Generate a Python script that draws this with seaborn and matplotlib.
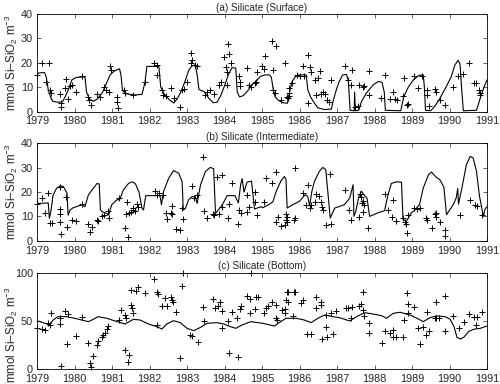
import matplotlib
matplotlib.use("Agg")
import matplotlib.pyplot as plt
import seaborn as sns
import pandas as pd

# ---------------- data ----------------
years = list(range(1979, 1992))
year_labels = [str(y) for y in years]

titles = ["(a) Silicate (Surface)", "(b) Silicate (Intermediate)", "(c) Silicate (Bottom)"]
ylabel = "mmol Si\u2013SiO$_2$ m$^{-3}$"

# panel (a) model line
a_line_t = [1979.00, 1979.05, 1979.20, 1979.25, 1979.30, 1979.36, 1979.42, 1979.55, 1979.68, 1979.75,
            1979.85, 1979.93, 1980.05, 1980.28, 1980.32, 1980.40, 1980.50, 1980.62, 1980.75, 1980.85,
            1980.95, 1981.05, 1981.20, 1981.24, 1981.28, 1981.40, 1981.60, 1981.80, 1981.84, 1981.88,
            1981.93, 1982.25, 1982.30, 1982.40, 1982.55, 1982.65, 1982.75, 1982.85, 1982.95, 1983.05,
            1983.12, 1983.22, 1983.27, 1983.32, 1983.45, 1983.58, 1983.70, 1983.80, 1983.90, 1984.00,
            1984.10, 1984.20, 1984.30, 1984.34, 1984.40, 1984.50, 1984.62, 1984.72, 1984.86, 1984.95,
            1985.07, 1985.20, 1985.25, 1985.30, 1985.35, 1985.43, 1985.55, 1985.68, 1985.71, 1985.75,
            1985.80, 1985.89, 1985.98, 1986.18, 1986.22, 1986.30, 1986.40, 1986.49, 1986.67, 1986.85,
            1986.90, 1986.98, 1987.05, 1987.15, 1987.25, 1987.30, 1987.35, 1987.46, 1987.47, 1987.49,
            1987.58, 1987.65, 1987.78, 1987.97, 1988.10, 1988.20, 1988.26, 1988.29, 1988.70, 1988.78,
            1988.90, 1989.04, 1989.18, 1989.30, 1989.33, 1989.36, 1989.50, 1989.60, 1989.73, 1989.87,
            1989.96, 1990.05, 1990.14, 1990.23, 1990.28, 1990.33, 1990.37, 1990.72, 1990.83, 1990.92,
            1991.00]
a_line_v = [15.0, 15.8, 16.0, 14.0, 9.0, 6.0, 4.2, 3.8, 4.0, 6.0,
            9.5, 13.0, 14.0, 14.2, 8.0, 5.0, 4.2, 5.2, 8.0, 11.5,
            15.0, 16.5, 17.5, 15.0, 8.5, 7.2, 6.8, 7.0, 9.5, 12.0,
            18.5, 18.5, 10.0, 7.0, 4.5, 3.5, 5.5, 8.5, 12.5, 17.0,
            18.5, 19.2, 15.0, 9.0, 8.2, 5.5, 3.6, 3.8, 6.5, 10.5,
            15.0, 18.0, 17.8, 8.0, 6.0, 6.5, 8.5, 10.8, 12.7, 14.3,
            15.0, 15.0, 14.0, 9.0, 6.0, 4.7, 3.6, 3.4, 6.0, 9.0,
            12.2, 14.3, 15.0, 15.0, 9.0, 5.8, 3.4, 1.5, 0.8, 1.0,
            4.5, 8.8, 12.0, 15.0, 15.2, 13.0, 0.5, 0.3, 8.0, 0.3,
            0.5, 4.0, 7.5, 11.0, 12.3, 12.0, 8.0, 0.5, 0.3, 6.0,
            10.0, 13.0, 14.8, 15.0, 10.0, 0.5, 0.3, 2.0, 5.0, 9.0,
            11.6, 14.4, 19.0, 21.0, 19.5, 8.0, 0.3, 0.5, 6.0, 10.0,
            13.0]

# panel (a) observations
a_obs_t = [1979.00, 1979.13, 1979.23, 1979.32, 1979.34, 1979.37, 1979.60, 1979.63, 1979.63, 1979.74,
           1979.77, 1979.83, 1979.88, 1979.92, 1980.04, 1980.21, 1980.37, 1980.39, 1980.44, 1980.60,
           1980.68, 1980.79, 1980.84, 1980.91, 1980.95, 1980.97, 1981.12, 1981.12, 1981.17, 1981.33,
           1981.35, 1981.57, 1981.88, 1982.13, 1982.20, 1982.20, 1982.32, 1982.37, 1982.45, 1982.57,
           1982.64, 1982.80, 1982.87, 1982.91, 1983.00, 1983.11, 1983.13, 1983.11, 1983.22, 1983.26,
           1983.47, 1983.52, 1983.62, 1983.72, 1983.85, 1983.90, 1983.98, 1984.04, 1984.08, 1984.07,
           1984.06, 1984.13, 1984.18, 1984.38, 1984.40, 1984.42, 1984.60, 1984.66, 1984.70, 1984.82,
           1984.85, 1984.86, 1985.00, 1985.04, 1985.09, 1985.27, 1985.36, 1985.29, 1985.30, 1985.34,
           1985.51, 1985.60, 1985.66, 1985.69, 1985.72, 1985.71, 1985.73, 1985.80, 1985.94, 1986.00,
           1986.11, 1986.22, 1986.09, 1986.29, 1986.31, 1986.42, 1986.49, 1986.55, 1986.22, 1986.45,
           1986.58, 1986.62, 1986.68, 1986.85, 1986.72, 1986.79, 1987.22, 1987.41, 1987.29, 1987.38,
           1987.58, 1987.70, 1987.72, 1987.47, 1987.56, 1987.85, 1987.85, 1988.17, 1988.28, 1988.41,
           1988.50, 1988.54, 1988.59, 1988.77, 1988.79, 1988.87, 1988.89, 1989.06, 1989.17, 1989.26,
           1989.39, 1989.40, 1989.45, 1989.60, 1989.63, 1989.74, 1989.87, 1990.10, 1990.23, 1990.36,
           1990.51, 1990.66, 1990.71, 1990.78, 1990.80, 1990.82]
a_obs_v = [15.0, 20.0, 12.0, 20.0, 9.0, 7.5, 7.0, 3.5, 1.8, 9.6,
           13.3, 5.0, 10.3, 11.0, 8.0, 14.7, 6.0, 4.8, 2.7, 7.3,
           6.0, 10.0, 9.0, 8.2, 18.5, 17.0, 5.9, 4.1, 1.4, 8.9,
           7.5, 6.8, 12.3, 19.9, 19.2, 15.0, 8.9, 6.8, 6.2, 9.6,
           5.5, 1.8, 8.9, 9.2, 12.3, 19.9, 21.2, 23.9, 19.0, 18.6,
           6.8, 8.2, 8.9, 7.3, 11.0, 12.3, 22.3, 18.2, 27.7, 16.4,
           11.0, 23.7, 20.1, 14.4, 12.3, 10.3, 17.8, 11.0, 10.0, 11.6,
           12.3, 16.4, 18.5, 17.5, 22.6, 28.8, 26.7, 17.0, 8.9, 7.5,
           4.8, 20.1, 6.0, 5.5, 6.2, 9.6, 7.5, 11.6, 15.0, 14.4,
           14.4, 23.3, 18.5, 18.2, 16.4, 13.0, 13.7, 16.7, 3.4, 6.8,
           7.3, 7.8, 7.1, 13.0, 4.8, 4.1, 18.8, 17.1, 13.0, 11.0,
           11.0, 10.0, 10.5, 2.0, 2.3, 16.7, 6.8, 5.5, 15.0, 5.0,
           8.2, 5.0, 4.8, 6.2, 13.7, 2.7, 3.1, 14.4, 9.6, 14.4,
           8.9, 6.8, 2.3, 9.2, 8.2, 4.8, 2.7, 10.0, 14.4, 15.5,
           20.1, 11.6, 11.6, 8.9, 6.8, 7.5]

# panel (b) model line
b_line_t = [1979.00, 1979.30, 1979.33, 1979.37, 1979.43, 1979.52, 1979.62, 1979.70, 1979.75, 1979.80,
            1979.83, 1979.88, 1979.96, 1980.19, 1980.28, 1980.37, 1980.50, 1980.60, 1980.66, 1980.69,
            1980.75, 1980.86, 1980.91, 1980.99, 1981.12, 1981.21, 1981.30, 1981.44, 1981.53, 1981.62,
            1981.72, 1981.80, 1981.84, 1981.90, 1982.28, 1982.32, 1982.37, 1982.51, 1982.64, 1982.78,
            1982.87, 1982.90, 1982.96, 1983.04, 1983.13, 1983.22, 1983.27, 1983.36, 1983.49, 1983.62,
            1983.71, 1983.76, 1983.94, 1984.07, 1984.28, 1984.37, 1984.43, 1984.47, 1984.52, 1984.60,
            1984.72, 1984.80, 1984.98, 1985.02, 1985.20, 1985.29, 1985.38, 1985.50, 1985.60, 1985.64,
            1985.67, 1985.82, 1986.00, 1986.15, 1986.22, 1986.27, 1986.33, 1986.40, 1986.53, 1986.62,
            1986.70, 1986.78, 1986.82, 1986.94, 1987.20, 1987.34, 1987.43, 1987.45, 1987.50, 1987.58,
            1987.65, 1987.74, 1987.80, 1987.87, 1988.10, 1988.27, 1988.36, 1988.45, 1988.58, 1988.72,
            1988.76, 1988.85, 1988.98, 1989.10, 1989.20, 1989.30, 1989.44, 1989.52, 1989.65, 1989.74,
            1989.85, 1989.92, 1990.00, 1990.10, 1990.18, 1990.22, 1990.24, 1990.33, 1990.45, 1990.55,
            1990.63, 1990.72, 1990.80, 1990.85, 1990.90, 1990.95, 1991.00]
b_line_v = [15.3, 15.5, 9.2, 12.0, 18.8, 21.5, 22.5, 22.3, 21.0, 19.5,
            10.5, 12.6, 13.5, 14.7, 14.0, 18.8, 21.5, 23.5, 23.3, 12.6,
            11.8, 11.2, 10.5, 14.7, 16.7, 17.0, 20.8, 23.5, 24.2, 23.5,
            20.0, 13.3, 12.6, 18.5, 18.5, 14.7, 20.0, 25.6, 28.8, 27.7,
            24.2, 12.6, 13.3, 16.7, 18.1, 18.1, 15.3, 22.9, 28.4, 30.1,
            29.6, 11.2, 14.7, 18.5, 18.5, 15.5, 23.0, 25.5, 20.0, 24.0,
            24.5, 13.0, 14.0, 13.5, 15.0, 16.0, 20.3, 24.4, 26.4, 25.0,
            13.4, 14.8, 16.2, 18.9, 18.2, 14.3, 20.3, 24.4, 28.5, 30.1,
            29.2, 16.0, 9.3, 13.4, 14.8, 17.5, 23.0, 10.0, 12.0, 18.0,
            20.3, 18.5, 17.5, 10.0, 11.5, 12.3, 18.9, 23.5, 24.2, 24.0,
            8.7, 8.0, 11.4, 13.0, 14.8, 21.6, 27.1, 28.2, 26.0, 25.1,
            22.0, 10.7, 12.5, 14.8, 17.6, 21.5, 15.0, 21.6, 31.2, 34.6,
            34.0, 28.5, 18.2, 14.3, 10.0, 13.0, 14.0]

# panel (b) observations
b_obs_t = [1979.00, 1979.12, 1979.20, 1979.30, 1979.34, 1979.41, 1979.60, 1979.61, 1979.61, 1979.61,
           1979.63, 1979.76, 1979.81, 1979.92, 1980.05, 1980.21, 1980.37, 1980.41, 1980.46, 1980.60,
           1980.63, 1980.72, 1980.79, 1980.88, 1980.92, 1981.19, 1981.35, 1981.42, 1981.38, 1981.46,
           1981.41, 1981.50, 1981.55, 1981.57, 1981.60, 1981.66, 1981.70, 1982.15, 1982.24, 1982.20,
           1982.37, 1982.43, 1982.47, 1982.60, 1982.57, 1982.60, 1982.71, 1982.82, 1982.87, 1982.89,
           1983.13, 1983.18, 1983.27, 1983.43, 1983.46, 1983.53, 1983.68, 1983.71, 1983.80, 1983.93,
           1983.85, 1983.94, 1984.12, 1984.10, 1984.20, 1984.35, 1984.38, 1984.43, 1984.60, 1984.60,
           1984.66, 1984.80, 1984.82, 1984.86, 1985.06, 1985.10, 1985.27, 1985.36, 1985.42, 1985.37,
           1985.51, 1985.62, 1985.64, 1985.66, 1985.64, 1985.66, 1985.84, 1985.87, 1985.89, 1986.09,
           1986.22, 1986.18, 1986.27, 1986.31, 1986.40, 1986.45, 1986.53, 1986.57, 1986.60, 1986.63,
           1986.71, 1986.85, 1986.80, 1987.22, 1987.31, 1987.38, 1987.59, 1987.60, 1987.65, 1987.69,
           1987.73, 1987.67, 1987.70, 1987.83, 1988.28, 1988.37, 1988.46, 1988.48, 1988.57, 1988.77,
           1988.80, 1988.84, 1988.86, 1988.90, 1989.04, 1989.13, 1989.20, 1989.38, 1989.41, 1989.52,
           1989.60, 1989.63, 1989.65, 1989.75, 1989.88, 1989.88, 1990.29, 1990.55, 1990.67, 1990.73,
           1990.87]
b_obs_v = [15.0, 17.4, 11.2, 19.7, 7.1, 7.1, 22.2, 12.9, 10.8, 7.8,
           2.6, 18.1, 5.8, 8.5, 8.2, 15.0, 6.8, 3.7, 5.8, 8.5,
           8.1, 10.3, 10.5, 12.3, 9.2, 17.7, 5.1, 1.6, 10.8, 11.2,
           16.0, 11.6, 12.5, 13.3, 12.0, 15.0, 14.0, 20.4, 19.5, 18.8,
           18.8, 11.5, 8.8, 14.4, 11.2, 10.8, 5.0, 4.4, 13.5, 8.9,
           22.6, 17.7, 18.8, 34.2, 12.2, 9.5, 10.8, 10.6, 26.0, 27.0,
           10.8, 14.0, 15.0, 9.5, 23.6, 6.8, 12.6, 11.2, 18.8, 11.6,
           14.0, 16.0, 20.1, 10.5, 16.0, 25.6, 23.6, 28.4, 9.9, 7.5,
           6.2, 6.4, 10.8, 9.9, 8.5, 7.8, 8.5, 9.2, 29.7, 19.5,
           22.9, 14.7, 13.3, 14.7, 16.0, 19.0, 18.3, 16.0, 14.0, 12.8,
           6.4, 6.7, 27.3, 20.8, 12.6, 8.5, 9.9, 19.0, 17.8, 16.5,
           14.5, 15.5, 11.9, 5.1, 19.0, 12.6, 9.6, 16.7, 8.1, 9.2,
           7.5, 6.7, 3.0, 10.5, 13.3, 13.2, 13.3, 9.2, 8.5, 5.1,
           10.8, 11.5, 9.9, 7.8, 4.4, 2.1, 10.5, 16.7, 14.7, 14.4,
           10.5]

# panel (c) model line
c_line_t = [1979.00, 1979.16, 1979.34, 1979.43, 1979.56, 1979.79, 1980.00, 1980.19, 1980.37, 1980.50,
            1980.63, 1980.86, 1981.08, 1981.35, 1981.57, 1981.75, 1981.97, 1982.20, 1982.33, 1982.46,
            1982.64, 1982.82, 1983.00, 1983.18, 1983.36, 1983.54, 1983.80, 1983.98, 1984.16, 1984.30,
            1984.47, 1984.70, 1985.02, 1985.33, 1985.46, 1985.64, 1985.91, 1986.13, 1986.31, 1986.49,
            1986.67, 1986.89, 1987.07, 1987.34, 1987.52, 1987.74, 1987.96, 1988.19, 1988.32, 1988.50,
            1988.68, 1988.95, 1989.17, 1989.30, 1989.48, 1989.66, 1989.88, 1990.02, 1990.12, 1990.20,
            1990.29, 1990.38, 1990.51, 1990.64, 1990.82, 1991.00]
c_line_v = [50.3, 48.3, 45.9, 51.0, 54.5, 54.5, 52.8, 51.0, 49.3, 51.7,
            54.5, 52.8, 50.0, 46.9, 51.7, 51.0, 46.9, 44.1, 41.7, 46.9,
            50.3, 48.3, 42.4, 40.0, 43.4, 47.6, 48.3, 46.9, 44.1, 42.4,
            45.9, 49.3, 47.6, 44.8, 48.3, 52.8, 52.8, 51.0, 48.3, 52.8,
            56.2, 54.5, 53.4, 50.0, 54.5, 58.6, 57.2, 55.5, 52.8, 57.9,
            59.0, 56.2, 52.1, 49.3, 53.4, 55.2, 54.5, 51.7, 44.1, 33.1,
            31.4, 33.1, 39.0, 41.4, 42.4, 44.8]

# panel (c) observations
c_obs_t = [1979.00, 1979.12, 1979.20, 1979.30, 1979.34, 1979.36, 1979.61, 1979.62, 1979.63, 1979.74,
           1979.83, 1979.81, 1980.05, 1980.21, 1980.37, 1980.41, 1980.44, 1980.48, 1980.60, 1980.62,
           1980.72, 1980.77, 1980.81, 1980.86, 1980.90, 1981.19, 1981.23, 1981.35, 1981.37, 1981.35,
           1981.44, 1981.42, 1981.50, 1981.54, 1981.57, 1981.50, 1981.64, 1981.70, 1981.88, 1982.13,
           1982.20, 1982.22, 1982.21, 1982.33, 1982.42, 1982.46, 1982.58, 1982.60, 1982.62, 1982.71,
           1982.80, 1982.87, 1982.89, 1983.07, 1983.13, 1983.29, 1983.42, 1983.46, 1983.69, 1983.74,
           1983.83, 1983.87, 1983.94, 1983.92, 1984.10, 1984.12, 1984.19, 1984.34, 1984.36, 1984.41,
           1984.45, 1984.59, 1984.68, 1984.68, 1984.70, 1984.82, 1984.84, 1984.88, 1985.04, 1985.10,
           1985.15, 1985.27, 1985.36, 1985.37, 1985.39, 1985.54, 1985.60, 1985.62, 1985.64, 1985.68,
           1985.66, 1985.69, 1985.84, 1985.88, 1985.82, 1986.04, 1986.09, 1986.20, 1986.31, 1986.45,
           1986.56, 1986.58, 1986.43, 1986.61, 1986.70, 1986.73, 1986.71, 1986.83, 1986.88, 1986.96,
           1987.23, 1987.29, 1987.40, 1987.38, 1987.59, 1987.65, 1987.70, 1987.70, 1987.72, 1987.85,
           1987.86, 1988.19, 1988.28, 1988.41, 1988.48, 1988.48, 1988.57, 1988.77, 1988.79, 1988.86,
           1988.88, 1988.90, 1989.06, 1989.17, 1989.20, 1989.29, 1989.38, 1989.41, 1989.46, 1989.60,
           1989.65, 1989.73, 1989.63, 1989.88, 1989.88, 1990.10, 1990.26, 1990.38, 1990.51, 1990.66,
           1990.73, 1990.71, 1990.87]
c_obs_v = [42.4, 41.4, 40.7, 48.3, 45.9, 58.6, 52.8, 46.9, 3.4, 60.3,
           56.9, 26.2, 34.5, 54.5, 26.9, 6.9, 2.8, 13.8, 25.2, 29.7,
           33.1, 35.5, 37.2, 41.7, 44.8, 51.0, 61.4, 56.2, 52.8, 20.0,
           14.8, 7.9, 66.6, 63.1, 57.9, 82.0, 81.4, 84.8, 78.6, 93.1,
           80.3, 77.9, 45.9, 65.5, 73.4, 65.5, 74.5, 71.7, 70.0, 59.7,
           11.4, 86.2, 99.3, 35.5, 34.5, 27.9, 64.1, 50.3, 72.4, 63.1,
           65.5, 70.0, 60.7, 43.1, 50.3, 16.6, 59.0, 52.8, 13.1, 62.0,
           65.9, 75.9, 72.4, 58.6, 100.0, 62.0, 74.5, 74.5, 57.9, 63.1,
           65.5, 70.0, 66.6, 52.8, 51.0, 61.4, 62.0, 58.6, 71.7, 70.0,
           80.3, 80.3, 80.3, 80.3, 55.2, 69.0, 71.7, 36.2, 36.2, 75.2,
           70.0, 66.6, 63.1, 31.0, 43.4, 33.8, 56.2, 58.6, 36.6, 60.7,
           63.1, 63.1, 64.1, 53.4, 65.9, 67.6, 80.3, 61.4, 55.2, 48.3,
           37.2, 27.6, 40.0, 37.9, 40.7, 33.1, 33.1, 33.1, 51.0, 78.6,
           67.6, 57.9, 64.8, 42.4, 25.9, 43.4, 35.5, 59.7, 40.0, 52.8,
           52.8, 52.8, 70.0, 75.9, 40.0, 55.2, 43.1, 49.3, 57.2, 54.5,
           54.5, 45.9, 59.0]

y_limits = [(0, 40), (0, 40), (0, 100)]
y_ticks = [[0, 10, 20, 30, 40], [0, 10, 20, 30, 40], [0, 50, 100]]

lines = [(a_line_t, a_line_v), (b_line_t, b_line_v), (c_line_t, c_line_v)]
obs = [(a_obs_t, a_obs_v), (b_obs_t, b_obs_v), (c_obs_t, c_obs_v)]

# ---------------- style ----------------
sns.set_style("ticks")
plt.rcParams['font.family'] = ['Liberation Sans', 'DejaVu Sans']
plt.rcParams['mathtext.fontset'] = 'custom'
plt.rcParams['mathtext.rm'] = 'Liberation Sans'
plt.rcParams['mathtext.it'] = 'Liberation Sans:italic'
plt.rcParams['mathtext.bf'] = 'Liberation Sans:bold'

fig = plt.figure(figsize=(5.0, 3.84), dpi=100)
positions = [
    [0.074, 0.7096, 0.900, 0.2540],
    [0.074, 0.3732, 0.900, 0.2536],
    [0.074, 0.0383, 0.900, 0.2516],
]
label_y = [0.5, 0.5, 0.36]

for i in range(3):
    ax = fig.add_axes(positions[i])
    lt, lv = lines[i]
    ot, ov = obs[i]
    dl = pd.DataFrame({"year": lt, "value": lv})
    do = pd.DataFrame({"year": ot, "value": ov})
    sns.lineplot(data=dl, x="year", y="value", ax=ax, color="black",
                 linewidth=0.8, estimator=None, sort=False)
    sns.scatterplot(data=do, x="year", y="value", ax=ax, marker="+",
                    color="black", s=22, linewidth=0.7, clip_on=False)
    ax.set_xlim(1979, 1991)
    ax.set_ylim(*y_limits[i])
    ax.set_xticks(years)
    ax.set_xticklabels(year_labels)
    ax.set_yticks(y_ticks[i])
    ax.set_yticklabels([str(t) for t in y_ticks[i]])
    ax.set_xlabel("")
    ax.set_ylabel(ylabel, fontsize=8.4)
    ax.yaxis.set_label_coords(-0.038, label_y[i])
    ax.set_title(titles[i], fontsize=7.2, pad=2.5)
    ax.tick_params(direction="in", top=True, right=True, length=3,
                   width=0.5, labelsize=7.8)
    ax.tick_params(axis="x", pad=3.5)
    ax.tick_params(axis="y", pad=3)
    for sp in ax.spines.values():
        sp.set_visible(True)
        sp.set_linewidth(0.6)
        sp.set_color("black")

fig.savefig("out.png", dpi=100, facecolor="white")
